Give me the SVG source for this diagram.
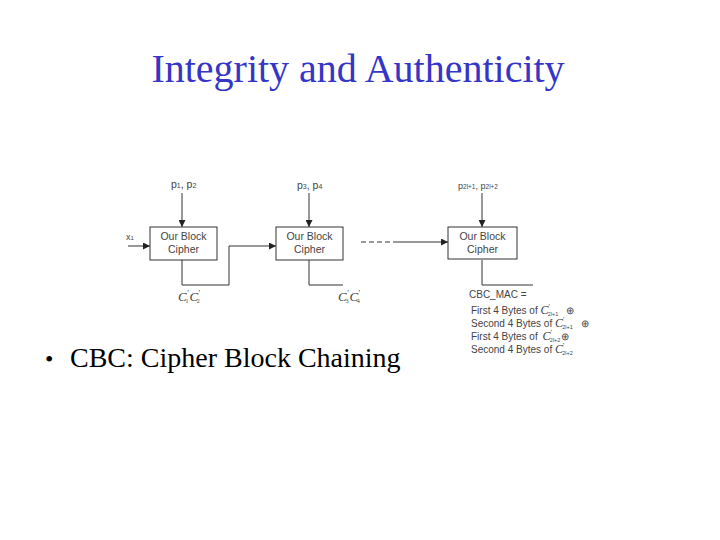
<svg xmlns="http://www.w3.org/2000/svg" width="720" height="540" viewBox="0 0 720 540">
<defs>
<marker id="ah" viewBox="0 0 10 10" refX="10" refY="5" markerWidth="7" markerHeight="7" orient="auto" markerUnits="userSpaceOnUse">
<path d="M0,0 L10,5 L0,10 z" fill="#222"/>
</marker>
<style>
.box{fill:#fff;stroke:#333;stroke-width:1}
.ln{fill:none;stroke:#333;stroke-width:1}
.lbl{font-family:"Liberation Sans",Arial,sans-serif;font-size:10.5px;fill:#444}
.sm{font-family:"Liberation Sans",Arial,sans-serif;font-size:9px;fill:#444}
.mac{font-family:"Liberation Sans",Arial,sans-serif;font-size:10px;fill:#444}
.cv{font-family:"Liberation Serif",serif;font-style:italic;font-size:13px;fill:#444}
.cm{font-family:"Liberation Serif",serif;font-style:italic;font-size:12px}
</style>
</defs>
<rect width="720" height="540" fill="#fff"/>
<text x="358" y="82" text-anchor="middle" font-family="Liberation Serif,'Times New Roman',serif" font-size="40" fill="#3535C8">Integrity and Authenticity</text>
<g id="connectors">
<line class="ln" x1="182" y1="193" x2="182" y2="227" marker-end="url(#ah)"/>
<line class="ln" x1="128" y1="246" x2="150" y2="246" marker-end="url(#ah)"/>
<polyline class="ln" points="182,260 182,285 229,285 229,246 276,246" marker-end="url(#ah)"/>
<line class="ln" x1="309" y1="193" x2="309" y2="227" marker-end="url(#ah)"/>
<polyline class="ln" points="309,260 309,285 343,285"/>
<line class="ln" x1="361" y1="242" x2="398" y2="242" stroke-dasharray="5,3"/>
<line class="ln" x1="398" y1="242" x2="448" y2="242" marker-end="url(#ah)"/>
<line class="ln" x1="482" y1="193" x2="482" y2="227" marker-end="url(#ah)"/>
<polyline class="ln" points="482,260 482,285 533,285"/>
</g>
<g id="node1">
<rect class="box" x="150" y="227" width="67" height="33"/>
<text class="lbl" x="183.5" y="240" text-anchor="middle">Our Block</text>
<text class="lbl" x="183.5" y="253" text-anchor="middle">Cipher</text>
</g>
<g id="node2">
<rect class="box" x="276" y="227" width="67" height="33"/>
<text class="lbl" x="309.5" y="240" text-anchor="middle">Our Block</text>
<text class="lbl" x="309.5" y="253" text-anchor="middle">Cipher</text>
</g>
<g id="node3">
<rect class="box" x="448" y="227" width="69" height="32"/>
<text class="lbl" x="482.5" y="240" text-anchor="middle">Our Block</text>
<text class="lbl" x="482.5" y="253" text-anchor="middle">Cipher</text>
</g>
<g id="labels">
<text class="lbl" x="171" y="188">p<tspan font-size="7">1</tspan>, p<tspan font-size="7">2</tspan></text>
<text class="lbl" x="297" y="189">p<tspan font-size="7">3</tspan>, p<tspan font-size="7">4</tspan></text>
<text class="sm" x="458" y="189">p<tspan font-size="6.5">2l+1</tspan>, p<tspan font-size="6.5">2l+2</tspan></text>
<text class="sm" x="126" y="240">x<tspan font-size="6">1</tspan></text>
<text class="cv" x="178" y="301">C<tspan font-size="8" dy="-5">'</tspan><tspan font-size="6" dx="-3" dy="7" font-style="normal">1</tspan><tspan dx="1" dy="-2">C</tspan><tspan font-size="8" dy="-5">'</tspan><tspan font-size="6" dx="-3" dy="7" font-style="normal">2</tspan></text>
<text class="cv" x="338" y="301">C<tspan font-size="8" dy="-5">'</tspan><tspan font-size="6" dx="-3" dy="7" font-style="normal">3</tspan><tspan dx="1" dy="-2">C</tspan><tspan font-size="8" dy="-5">'</tspan><tspan font-size="6" dx="-3" dy="7" font-style="normal">4</tspan></text>
<text class="mac" x="469" y="298">CBC_MAC =</text>
<text class="mac" x="471" y="314">First 4 Bytes of <tspan class="cm">C</tspan><tspan font-size="7" dy="-5">'</tspan><tspan font-size="5.5" dx="-2" dy="7">2l+1</tspan><tspan dx="8" dy="-2">⊕</tspan></text>
<text class="mac" x="471" y="327">Second 4 Bytes of <tspan class="cm">C</tspan><tspan font-size="7" dy="-5">'</tspan><tspan font-size="5.5" dx="-2" dy="7">2l+1</tspan><tspan dx="8" dy="-2">⊕</tspan></text>
<text class="mac" x="471" y="340">First 4 Bytes of <tspan dx="2" class="cm">C</tspan><tspan font-size="7" dy="-5">'</tspan><tspan font-size="5.5" dx="-2" dy="7">2l+2</tspan><tspan dx="1" dy="-2">⊕</tspan></text>
<text class="mac" x="471" y="353">Second 4 Bytes of <tspan class="cm">C</tspan><tspan font-size="7" dy="-5">'</tspan><tspan font-size="5.5" dx="-2" dy="7">2l+2</tspan></text>
</g>
<text x="45" y="367" font-family="Liberation Serif,'Times New Roman',serif" font-size="24" fill="#000">•</text>
<text x="70" y="367" font-family="Liberation Serif,'Times New Roman',serif" font-size="28" fill="#000">CBC: Cipher Block Chaining</text>
</svg>
